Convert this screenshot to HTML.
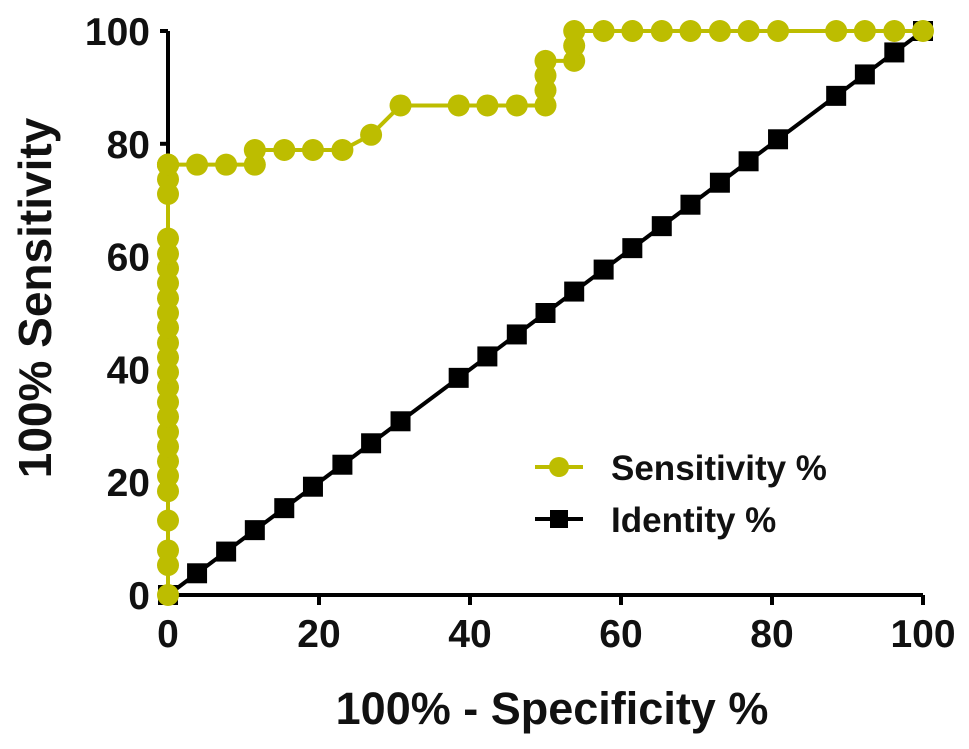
<!DOCTYPE html>
<html><head><meta charset="utf-8"><style>
body{margin:0;background:#fff}
svg text{font-family:"Liberation Sans",Arial,sans-serif;font-weight:bold;fill:#111}
</style></head><body>
<svg id="chart" width="969" height="744" viewBox="0 0 969 744" xmlns="http://www.w3.org/2000/svg">
<g id="axes"></g><g id="series"></g>
<g>
 <g>
  <line x1="535" y1="467" x2="583" y2="467" stroke="#bdbd00" stroke-width="4"/>
  <circle cx="559" cy="467" r="10" fill="#bdbd00"/>
  <text x="611" y="480" font-size="35">Sensitivity %</text>
 </g>
 <g>
  <line x1="535" y1="519" x2="583" y2="519" stroke="#000" stroke-width="4"/>
  <rect x="550" y="510" width="18" height="18" fill="#000"/>
  <text x="611" y="532" font-size="35">Identity %</text>
 </g>
</g>
<text x="552" y="724" font-size="45" text-anchor="middle">100% - Specificity %</text>
<text transform="translate(51,298) rotate(-90)" font-size="46" text-anchor="middle">100% Sensitivity</text>
</svg>
<script>
const xTicks=[0,20,40,60,80,100];
const yTicks=[0,20,40,60,80,100];
const idX=[0,3.85,7.7,11.5,15.4,19.2,23.1,26.9,30.8,38.5,42.3,46.2,50,53.8,57.7,61.5,65.4,69.2,73.1,76.9,80.8,88.5,92.3,96.2,100];
const idY=[0,3.85,7.7,11.5,15.4,19.2,23.1,26.9,30.8,38.5,42.3,46.2,50,53.8,57.7,61.5,65.4,69.2,73.1,76.9,80.8,88.5,92.3,96.2,100];
const senX=[0,0,0,0,0,0,0,0,0,0,0,0,0,0,0,0,0,0,0,0,0,0,0,0,0,0,0,0,3.85,7.7,11.5,11.5,15.4,19.2,23.1,26.9,30.8,38.5,42.3,46.2,50,50,50,50,53.8,53.8,53.8,57.7,61.5,65.4,69.2,73.1,76.9,80.8,88.5,92.3,96.2,100];
const senY=[0,5.3,7.9,13.2,18.4,21.1,23.7,26.3,28.9,31.6,34.2,36.8,39.5,42.1,44.7,47.4,50,52.6,55.3,57.9,60.5,63.2,71.1,73.7,76.3,76.3,76.3,76.3,76.3,76.3,76.3,78.9,78.9,78.9,78.9,81.6,86.8,86.8,86.8,86.8,86.8,89.5,92.1,94.7,94.7,97.4,100,100,100,100,100,100,100,100,100,100,100,100];
const NS="http://www.w3.org/2000/svg";
const X0=168,X1=923,Y0=595,Y1=31;
const sx=v=>X0+(X1-X0)*v/100, sy=v=>Y0-(Y0-Y1)*v/100;
function mk(tag,at,parent){const e=document.createElementNS(NS,tag);for(const k in at)e.setAttribute(k,at[k]);parent.appendChild(e);return e;}
const axes=document.getElementById('axes'), ser=document.getElementById('series');
const xa=mk('line',{x1:X0,y1:Y0,x2:X1,y2:Y0,stroke:'#000','stroke-width':4},axes);


const ya=mk('line',{x1:X0,y1:Y0,x2:X0,y2:Y1,stroke:'#000','stroke-width':4},axes);


xTicks.forEach(v=>{
 mk('line',{x1:sx(v),y1:Y0,x2:sx(v),y2:Y0+10,stroke:'#000','stroke-width':4},axes);
 const t=mk('text',{x:sx(v),y:Y0+52,'font-size':39,'text-anchor':'middle'},axes);t.textContent=v;
 
 
});
yTicks.forEach(v=>{
 mk('line',{x1:X0-8,y1:sy(v),x2:X0,y2:sy(v),stroke:'#000','stroke-width':4},axes);
 const t=mk('text',{x:X0-18,y:sy(v)+14,'font-size':39,'text-anchor':'end'},axes);t.textContent=v;
 
 
});
const lp=mk('polyline',{points:idX.map((v,i)=>sx(v)+','+sy(idY[i])).join(' '),fill:'none',stroke:'#000','stroke-width':4},ser);


idX.forEach((v,i)=>{const r=mk('rect',{x:sx(v)-10,y:sy(idY[i])-10,width:20,height:20,fill:'#000'},ser);
 
 });
const sp=mk('polyline',{points:senX.map((v,i)=>sx(v)+','+sy(senY[i])).join(' '),fill:'none',stroke:'#bdbd00','stroke-width':4},ser);


senX.forEach((v,i)=>{const c=mk('circle',{cx:sx(v),cy:sy(senY[i]),r:11,fill:'#bdbd00'},ser);
 
 });
</script>
</body></html>
